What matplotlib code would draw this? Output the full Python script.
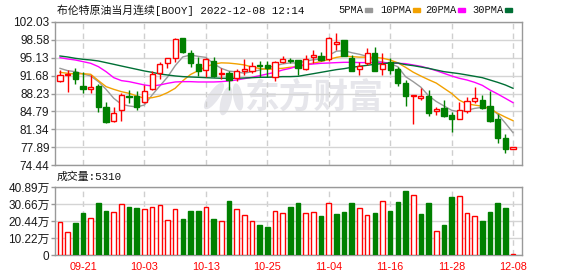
import matplotlib
matplotlib.use('Agg')
import matplotlib.pyplot as plt
from matplotlib.patches import Rectangle, Ellipse
from matplotlib.transforms import IdentityTransform
import numpy as np
import pandas as pd

# Brent crude continuous (BOOY) daily candles, 2022-09-16 .. 2022-12-08

plt.rcParams['font.family'] = ['Liberation Sans', 'Noto Sans CJK SC']

dates = pd.bdate_range('2022-09-16', '2022-12-08').strftime('%m-%d')
tick_labels = ['09-21', '10-03', '10-13', '10-25', '11-04', '11-16', '11-28', '12-08']

opens = [90.72, 91.81, 92.32, 89.68, 89.04, 89.68, 85.57, 83.00, 85.06, 87.82,
         87.76, 86.54, 89.04, 92.13, 94.06, 95.02, 98.88, 95.99, 93.87, 92.77,
         94.57, 91.94, 92.13, 91.17, 92.64, 92.64, 93.74, 93.74, 91.36, 94.38,
         94.77, 94.70, 92.90, 95.22, 95.47, 94.83, 97.72, 98.56, 95.02, 92.97,
         94.19, 95.99, 92.90, 94.38, 92.90, 90.33, 87.76, 87.43, 87.82, 84.93,
         85.50, 84.09, 83.38, 84.93, 86.86, 86.98, 85.83, 83.32, 79.72, 77.46]
closes = [91.81, 92.00, 91.10, 89.17, 89.43, 85.70, 82.80, 84.41, 87.95, 87.63,
          85.57, 88.72, 92.00, 93.93, 95.09, 98.75, 96.18, 94.06, 92.58, 94.83,
          91.62, 92.26, 90.84, 92.64, 92.97, 93.61, 93.58, 93.09, 94.25, 94.83,
          94.45, 93.22, 94.83, 95.67, 94.70, 98.88, 98.11, 95.47, 92.58, 93.54,
          95.99, 92.64, 93.87, 92.77, 90.20, 87.76, 87.89, 87.76, 84.54, 85.18,
          83.90, 83.38, 85.06, 86.79, 87.31, 85.38, 83.00, 79.72, 77.46, 77.85]
highs = [92.77, 92.77, 93.09, 92.32, 91.81, 90.07, 86.54, 85.57, 88.40, 88.91,
         88.79, 89.81, 92.58, 94.25, 95.15, 98.88, 99.01, 96.63, 95.22, 95.15,
         95.22, 93.22, 92.64, 92.90, 94.83, 94.38, 94.51, 94.51, 94.51, 95.47,
         95.15, 94.77, 95.67, 96.63, 96.31, 99.20, 99.85, 98.60, 95.67, 94.38,
         97.08, 97.27, 95.99, 95.15, 93.29, 90.84, 88.02, 89.24, 88.91, 85.57,
         86.98, 84.73, 86.66, 87.50, 89.43, 87.95, 88.72, 84.22, 80.42, 77.85]
lows = [90.39, 88.59, 90.00, 88.40, 88.40, 84.73, 82.61, 82.80, 83.00, 86.34,
        85.06, 86.34, 88.91, 90.97, 93.09, 94.38, 95.99, 93.42, 91.62, 91.36,
        91.49, 90.97, 88.91, 90.65, 91.81, 92.13, 91.49, 91.49, 90.65, 94.19,
        94.06, 91.81, 92.77, 94.19, 94.51, 94.51, 96.63, 95.40, 92.50, 91.81,
        93.74, 92.58, 91.81, 91.94, 89.75, 85.83, 82.35, 86.98, 83.90, 84.09,
        83.77, 80.87, 83.25, 84.54, 86.47, 85.18, 82.80, 78.75, 76.82, 77.46]

# volume in 万 (10k lots)
volumes = [19.6, 13.6, 19.2, 25.1, 22.2, 31.1, 26.5, 25.7, 30.5, 28.9,
           28.3, 27.7, 28.7, 29.9, 20.8, 27.7, 21.6, 26.5, 26.5, 28.7,
           21.6, 20.2, 32.5, 27.7, 23.9, 20.2, 18.0, 16.8, 26.3, 25.1,
           28.9, 31.3, 25.1, 25.7, 23.5, 31.1, 24.7, 25.9, 31.3, 28.3,
           23.9, 25.3, 32.5, 26.5, 31.9, 38.7, 35.9, 24.7, 31.3, 14.2,
           18.0, 34.9, 35.3, 25.1, 23.3, 20.4, 25.9, 31.3, 28.3, 0.531]

ma5 = [93.09, 92.64, 92.45, 92.00, 91.62, 90.52, 89.04, 87.31, 86.15, 85.83,
       85.64, 86.02, 87.95, 89.68, 91.40, 93.60, 95.30, 95.65, 95.40, 95.20,
       94.00, 93.09, 92.55, 92.42, 92.15, 92.45, 92.75, 93.20, 93.58, 93.95,
       94.15, 94.10, 94.50, 94.75, 94.90, 95.60, 96.40, 96.50, 96.10, 95.80,
       95.40, 94.60, 94.30, 94.00, 93.40, 91.49, 90.52, 89.45, 87.80, 86.70,
       85.84, 85.00, 84.70, 85.00, 85.36, 85.57, 85.47, 84.25, 82.52, 80.68]
ma10 = [92.32, 92.13, 92.00, 92.06, 91.94, 90.72, 89.56, 89.04, 88.59, 88.27,
        87.76, 87.31, 87.43, 87.76, 88.40, 89.24, 90.70, 91.90, 92.65, 93.40,
        93.90, 94.15, 94.10, 93.95, 93.75, 93.35, 93.05, 92.90, 93.00, 93.10,
        93.30, 93.40, 93.80, 94.10, 94.40, 94.80, 95.20, 95.45, 95.35, 95.25,
        95.25, 95.20, 95.05, 94.70, 94.15, 93.29, 92.35, 91.60, 90.90, 90.25,
        89.25, 88.25, 86.95, 86.23, 86.00, 85.78, 85.30, 84.42, 83.68, 82.99]
ma20 = [95.15, 94.90, 94.70, 94.38, 94.06, 93.42, 92.45, 91.29, 90.72, 90.52,
        90.20, 89.88, 89.68, 89.88, 90.20, 90.46, 90.52, 90.52, 90.46, 90.46,
        90.46, 90.52, 90.65, 90.84, 91.10, 91.36, 91.68, 92.00, 92.32, 92.77,
        93.09, 93.55, 93.80, 93.93, 94.06, 94.12, 94.19, 94.25, 94.25, 94.20,
        94.20, 94.20, 94.20, 94.15, 94.06, 94.00, 93.74, 93.48, 93.09, 92.64,
        92.13, 91.62, 91.17, 90.84, 90.39, 89.81, 88.91, 88.14, 87.31, 86.47]
ma30 = [95.47, 95.28, 95.02, 94.83, 94.70, 94.51, 94.19, 93.87, 93.54, 93.22,
        92.90, 92.58, 92.32, 92.00, 91.81, 91.62, 91.49, 91.42, 91.36, 91.29,
        91.23, 91.17, 91.17, 91.17, 91.23, 91.29, 91.36, 91.36, 91.42, 91.49,
        91.49, 91.55, 91.81, 92.06, 92.32, 92.58, 92.84, 93.03, 93.29, 93.48,
        93.67, 93.87, 94.00, 94.12, 94.12, 93.80, 93.61, 93.35, 93.09, 92.77,
        92.45, 92.26, 92.06, 91.81, 91.55, 91.29, 90.84, 90.39, 89.88, 89.24]

price_ticks = [74.44, 77.89, 81.34, 84.79, 88.23, 91.68, 95.13, 98.58, 102.03]
vol_ticks = [0, 10.22, 20.44, 30.66, 40.89]
last_volume = '5310'

RED = '#ff0000'
GREEN = '#008000'
MA_COLORS = ['#999999', '#f2a100', '#ff00ff', '#006f35']
FRAME = '#999999'
WATERMARK = '#e6e6eb'
W, H = 578, 276


def px_box(left, top, right, bottom):
    return [left / W, 1 - bottom / H, (right - left) / W, (bottom - top) / H]


def style_axes(a):
    for s in a.spines.values():
        s.set_color(FRAME)
        s.set_linewidth(1)
    a.set_axisbelow(True)
    a.yaxis.grid(True, color='#d4d4d4', lw=1, ls='-')
    a.xaxis.grid(True, color='#cfcfcf', lw=1, ls=(0, (4, 3)))
    a.tick_params(axis='y', length=3, width=1, color=FRAME, labelsize=8.5, pad=1, labelcolor='#1a1a1a')


def main():
    o = np.array(opens)
    c = np.array(closes)
    x = np.arange(len(o))
    up = c >= o
    cols = np.where(up, RED, GREEN)

    # volume colour follows close vs previous close
    vol_up = np.concatenate([[up[0]], c[1:] >= c[:-1]])
    vcols = np.where(vol_up, RED, GREEN)

    tick_pos = [list(dates).index(t) for t in tick_labels]

    fig = plt.figure(figsize=(W / 100, H / 100), dpi=100)
    ax = fig.add_axes(px_box(55, 22, 522, 165))
    axv = fig.add_axes(px_box(55, 187, 522, 255))

    ### price panel
    style_axes(ax)
    ax.text(0.555, 0.47, '东方财富', transform=ax.transAxes, fontsize=25, fontweight='bold',
            color=WATERMARK, ha='center', va='center', zorder=0.3)
    # rough feather logo of the watermark (pixel space)
    for cx, cy, w, h, ang in [(214, 96, 9, 30, -35), (226, 101, 9, 28, -15), (238, 97, 8, 26, 10)]:
        ax.add_patch(Ellipse((cx, H - cy), w, h, angle=ang, transform=IdentityTransform(),
                             color=WATERMARK, zorder=0.3, clip_on=False))

    ax.vlines(x, lows, highs, colors=cols, lw=1, zorder=3)
    body = np.maximum(np.abs(c - o), 0.06)
    ax.bar(x, body, bottom=np.minimum(o, c), width=0.68,
           color=np.where(up, 'white', GREEN), edgecolor=cols, lw=1, zorder=4)
    for ma, col in zip([ma5, ma10, ma20, ma30], MA_COLORS):
        ax.plot(x, ma, color=col, lw=1, zorder=2)
    ax.set_xlim(-0.65, 60.17)
    ax.set_ylim(price_ticks[0], price_ticks[-1])
    ax.set_yticks(price_ticks)
    ax.set_yticklabels(['%.2f' % v for v in price_ticks])
    ax.set_xticks(tick_pos)
    ax.tick_params(axis='x', length=0, labelbottom=False)

    ### volume panel
    style_axes(axv)
    axv.bar(x, volumes, width=0.6, color=np.where(vol_up, 'white', GREEN),
            edgecolor=vcols, lw=1, zorder=3)
    axv.set_xlim(-0.65, 60.17)
    axv.set_ylim(0, vol_ticks[-1])
    axv.set_yticks(vol_ticks)
    axv.set_yticklabels(['0'] + ['%.2f万' % v for v in vol_ticks[1:]])
    axv.set_xticks(tick_pos)
    axv.set_xticklabels(tick_labels)
    axv.tick_params(axis='x', length=0, pad=5, labelsize=7.8, labelcolor=RED)

    ### header texts
    mono = ['Liberation Mono', 'Noto Sans CJK SC']
    fig.text(57 / W, 1 - 10 / H, '布伦特原油当月连续[BOOY] 2022-12-08 12:14',
             family=mono, fontsize=7.8, va='center', ha='left', color='#111111')
    fig.text(57 / W, 1 - 177 / H, '成交量:' + last_volume,
             family=mono, fontsize=7.8, va='center', ha='left', color='#111111')
    legend_x = [338, 380, 425, 472]
    for lx, name, col in zip(legend_x, ['5PMA', '10PMA', '20PMA', '30PMA'], MA_COLORS):
        t = fig.text(lx / W, 1 - 10 / H, name, family=mono, fontsize=7.5,
                     va='center', ha='left', color='#111111')
        fig.canvas.draw()
        bb = t.get_window_extent()
        fig.patches.append(Rectangle(((bb.x1 + 2) / W, 1 - 12 / H), 7 / W, 4 / H,
                                     transform=fig.transFigure, color=col))

    fig.savefig('out.png', dpi=100)


if __name__ == '__main__':
    main()
